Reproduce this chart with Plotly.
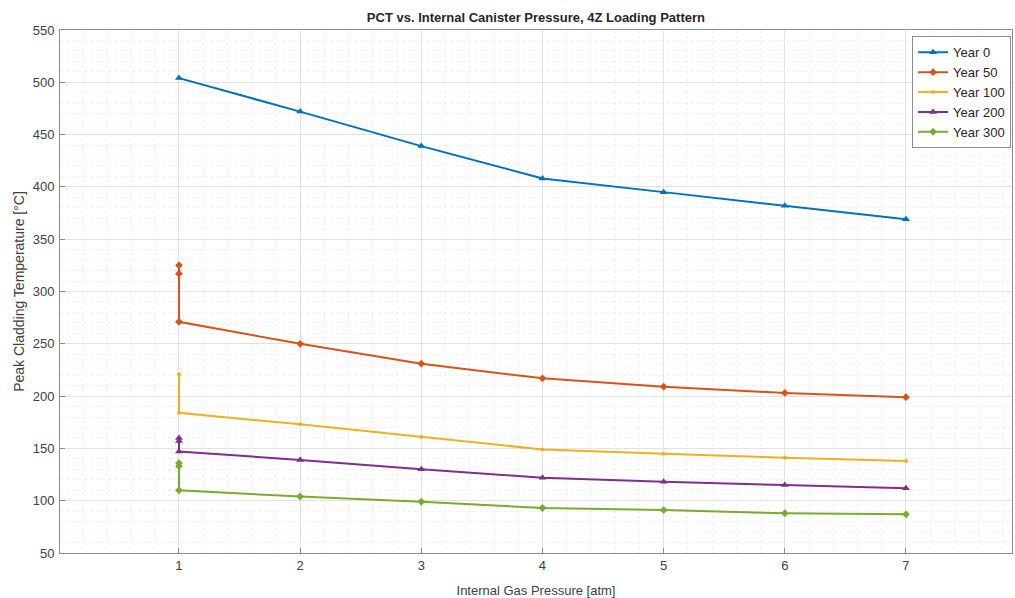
import plotly.graph_objects as go

title = "PCT vs. Internal Canister Pressure, 4Z Loading Pattern"
x_title = "Internal Gas Pressure [atm]"
y_title = "Peak Cladding Temperature [°C]"

series_names = ["Year 0", "Year 50", "Year 100", "Year 200", "Year 300"]

x_year0 = [1, 2, 3, 4, 5, 6, 7]
y_year0 = [504, 472, 439, 408, 395, 382, 369]

x_year50 = [1, 1, 1, 2, 3, 4, 5, 6, 7]
y_year50 = [325, 317, 271, 250, 231, 217, 209, 203, 199]

x_year100 = [1, 1, 2, 3, 4, 5, 6, 7]
y_year100 = [221, 184, 173, 161, 149, 145, 141, 138]

x_year200 = [1, 1, 1, 2, 3, 4, 5, 6, 7]
y_year200 = [160, 157, 147, 139, 130, 122, 118, 115, 112]

x_year300 = [1, 1, 1, 2, 3, 4, 5, 6, 7]
y_year300 = [136, 133, 110, 104, 99, 93, 91, 88, 87]

x_ticks = [1, 2, 3, 4, 5, 6, 7]
y_ticks = [50, 100, 150, 200, 250, 300, 350, 400, 450, 500, 550]

colors = ["#0072BD", "#D95319", "#EDB120", "#7E2F8E", "#77AC30"]
symbols = ["triangle-up", "diamond", "circle", "triangle-up", "diamond"]
msizes = [7, 6, 4, 7, 6]

xs = [x_year0, x_year50, x_year100, x_year200, x_year300]
ys = [y_year0, y_year50, y_year100, y_year200, y_year300]

fig = go.Figure()
for name, x, y, c, s, ms in zip(series_names, xs, ys, colors, symbols, msizes):
    fig.add_trace(go.Scatter(
        x=x, y=y, name=name, mode="lines+markers",
        line=dict(color=c, width=2),
        marker=dict(symbol=s, size=ms, color=c),
    ))

axis_common = dict(
    showline=True, linecolor="#8c8c8c", linewidth=1, mirror=True,
    ticks="inside", ticklen=5, tickcolor="#8c8c8c",
    showgrid=True, gridcolor="#e3e3e3", gridwidth=1,
    zeroline=False, automargin=False,
    tickfont=dict(family="Liberation Sans, Arial", size=13, color="#404040"),
)

def minor(dt):
    return dict(dtick=dt, showgrid=True, gridcolor="#f0f0f0", griddash="dot", gridwidth=1)

fig.update_layout(
    width=1015, height=598,
    margin=dict(l=60, r=3, t=30, b=45, autoexpand=False),
    paper_bgcolor="white", plot_bgcolor="white",
    title=dict(text="<b>" + title + "</b>", x=0.528, xanchor="center", y=0.97, yanchor="middle",
               font=dict(family="Liberation Sans, Arial", size=13, color="#262626")),
    legend=dict(x=0.999, y=0.988, xanchor="right", yanchor="top",
                bgcolor="white", bordercolor="#8c8c8c", borderwidth=1,
                font=dict(family="Liberation Sans, Arial", size=13, color="#262626"),
                tracegroupgap=0, itemwidth=30),
    showlegend=True,
)
fig.update_xaxes(range=[0.018, 7.875], tickvals=x_ticks,
                 minor=minor(0.2),
                 title=dict(text=x_title,
                            font=dict(family="Liberation Sans, Arial", size=13, color="#404040")),
                 **axis_common)
fig.update_yaxes(range=[50, 550], tickvals=y_ticks,
                 minor=minor(10), ticklabelstandoff=2,
                 title=dict(text=y_title, standoff=4,
                            font=dict(family="Liberation Sans, Arial", size=14, color="#404040")),
                 **axis_common)

fig.write_html("out.html",
               config={"displayModeBar": False},
               post_script="document.body.style.margin='0';document.body.style.overflow='hidden';")
